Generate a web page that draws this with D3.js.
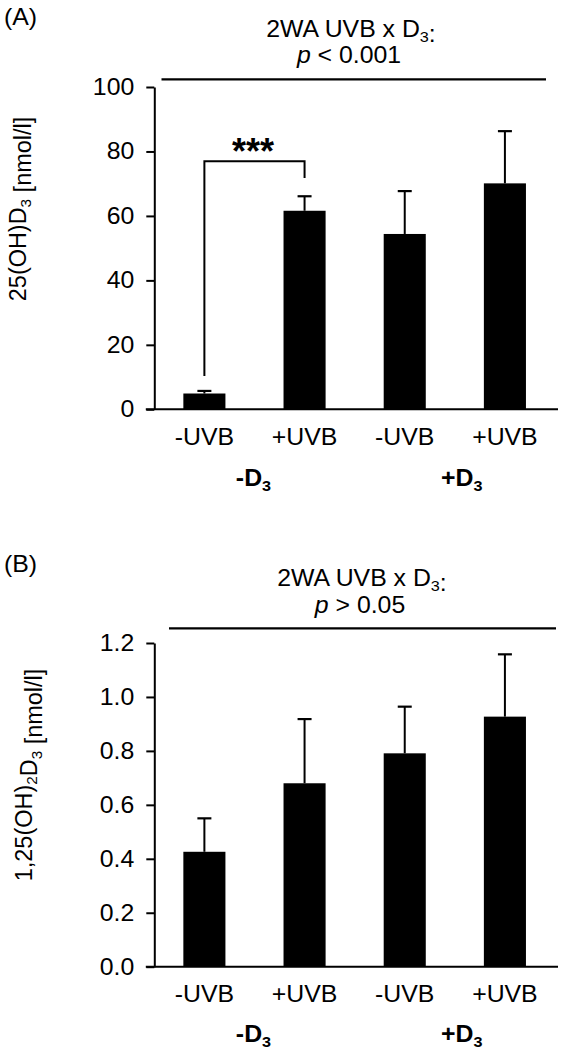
<!DOCTYPE html>
<html><head><meta charset="utf-8">
<script src="https://cdn.jsdelivr.net/npm/d3@7"></script>
<style>
body{margin:0;background:#fff}
svg{display:block}
text{font-family:"Liberation Sans",Arial,Helvetica,sans-serif;fill:#000}
</style></head><body>
<svg id="c" width="561" height="1055"></svg>
<script>
// ---- data ----
const categories = ["-UVB", "+UVB", "-UVB", "+UVB"];
const groupLabels = ["-D", "+D"];           // each followed by subscript 3
const valuesA = [4.9, 61.6, 54.4, 70.1];    // 25(OH)D3 nmol/l
const errorsA = [0.8, 4.5, 13.3, 16.2];
const valuesB = [0.426, 0.680, 0.791, 0.927]; // 1,25(OH)2D3 nmol/l
const errorsB = [0.124, 0.238, 0.173, 0.231];
const ticksA = [0, 20, 40, 60, 80, 100];
const ticksB = [0, 0.2, 0.4, 0.6, 0.8, 1.0, 1.2];
const pTextA = "< 0.001";
const pTextB = "> 0.05";
const bracketA = {from: 0, to: 1, left: 10.3, top: 77, right: 71.8, label: "***"};

const svg = d3.select("#c");
const FS = 23;     // font size
const SX = 1.08;   // horizontal widening of the glyphs
const SXR = 1.02;  // widening for rotated labels

function rich(sel, parts) {
  parts.forEach(p => {
    if (p.sub) {
      sel.append("tspan").attr("font-size", 15).attr("dy", 5).text(p.t);
      sel.append("tspan").attr("font-size", FS).attr("dy", -5).text("");
    } else if (p.it) {
      sel.append("tspan").attr("font-style", "italic").text(p.t);
    } else {
      sel.append("tspan").text(p.t);
    }
  });
  return sel;
}
function txt(parent, x, y, rot) {
  return parent.append("text")
    .attr("transform", `translate(${x},${y})${rot ? ` rotate(${rot}) scale(${SXR},1)` : ` scale(${SX},1)`}`)
    .attr("font-size", FS);
}

function panel(o) {
  const x = d3.scaleBand().domain(d3.range(categories.length))
    .range([154.3, 555]).paddingInner(0.58).paddingOuter(0.29);
  const y = d3.scaleLinear().domain(o.domain).range(o.yRange);
  const g = svg.append("g");

  // bars
  g.selectAll("rect.bar").data(o.values).join("rect")
    .attr("x", (d, i) => x(i)).attr("width", x.bandwidth())
    .attr("y", d => y(d)).attr("height", d => y(0) - y(d))
    .attr("fill", "#000");

  // error bars (upward)
  const eb = g.selectAll("g.err").data(o.values).join("g");
  eb.append("line")
    .attr("x1", (d, i) => x(i) + x.bandwidth() / 2).attr("x2", (d, i) => x(i) + x.bandwidth() / 2)
    .attr("y1", d => y(d)).attr("y2", (d, i) => y(d + o.errors[i]))
    .attr("stroke", "#000").attr("stroke-width", 2);
  eb.append("line")
    .attr("x1", (d, i) => x(i) + x.bandwidth() / 2 - 7).attr("x2", (d, i) => x(i) + x.bandwidth() / 2 + 7)
    .attr("y1", (d, i) => y(d + o.errors[i])).attr("y2", (d, i) => y(d + o.errors[i]))
    .attr("stroke", "#000").attr("stroke-width", 2.2);

  // y axis
  const ya = g.append("g").attr("transform", `translate(${x.range()[0]},0)`)
    .call(d3.axisLeft(y).tickValues(o.ticks).tickSize(8).tickSizeOuter(0).tickPadding(12).tickFormat(o.fmt));
  ya.attr("font-size", FS).attr("font-family", null);
  ya.selectAll("path,line").attr("stroke", "#000").attr("stroke-width", 2);
  ya.selectAll("text").attr("fill", "#000")
    .attr("transform", `translate(-20,0) scale(${SX},1)`).attr("x", 0);

  // x axis
  g.append("line").attr("x1", x.range()[0] - 8.5).attr("x2", x.range()[1] + 3)
    .attr("y1", y(0)).attr("y2", y(0)).attr("stroke", "#000").attr("stroke-width", 2);
  const xa = g.append("g").attr("transform", `translate(0,${y(0)})`)
    .call(d3.axisBottom(x).tickSize(0).tickFormat(i => categories[i]));
  xa.select(".domain").remove();
  xa.attr("font-size", FS).attr("font-family", null);
  xa.selectAll("text").attr("y", 0).attr("dy", 0).attr("fill", "#000")
    .attr("transform", `translate(0,${o.xLabelOff}) scale(${SX},1)`);

  // group labels
  const gOff = [-1, 7];
  groupLabels.forEach((lab, k) => {
    const cx = (x(2 * k) + x(2 * k + 1) + x.bandwidth()) / 2 + gOff[k];
    const t = txt(g, cx, y(0) + o.groupOff).attr("text-anchor", "middle").attr("font-weight", "bold");
    rich(t, [{t: lab}, {t: "3", sub: true}]);
  });

  // y label
  const yl = txt(g, o.ylabX, o.ylabY, -90).attr("text-anchor", "middle");
  rich(yl, o.ylab);

  // panel letter
  txt(g, 4, o.letterY).text(o.letter);

  // 2WA header
  const t1 = txt(g, o.titleX, o.titleY).attr("text-anchor", "middle");
  rich(t1, [{t: "2WA UVB x D"}, {t: "3", sub: true}, {t: ":"}]);
  const t2 = txt(g, o.titleX - 2, o.titleY + 26.5).attr("text-anchor", "middle");
  rich(t2, [{t: "p", it: true}, {t: " " + o.pText}]);
  g.append("line").attr("x1", o.lineX[0]).attr("x2", o.lineX[1])
    .attr("y1", o.lineY).attr("y2", o.lineY).attr("stroke", "#000").attr("stroke-width", 2.2);

  return {g, x, y};
}

const A = panel({
  values: valuesA, errors: errorsA, ticks: ticksA, domain: [0, 100], yRange: [409.3, 87],
  fmt: d3.format("d"), xLabelOff: 36, groupOff: 77,
  ylab: [{t: "25(OH)D"}, {t: "3", sub: true}, {t: " [nmol/l]"}], ylabX: 26, ylabY: 209,
  letter: "(A)", letterY: 25, titleX: 351, titleY: 36.5, pText: pTextA,
  lineX: [161.5, 546], lineY: 79.3
});

// significance bracket in panel A
{
  const {g, x, y} = A;
  const c0 = x(bracketA.from) + x.bandwidth() / 2, c1 = x(bracketA.to) + x.bandwidth() / 2;
  g.append("path")
    .attr("d", `M${c0},${y(bracketA.left)}V${y(bracketA.top)}H${c1}V${y(bracketA.right)}`)
    .attr("fill", "none").attr("stroke", "#000").attr("stroke-width", 2);
  g.append("text").attr("x", (c0 + c1) / 2 - 1.5).attr("y", y(bracketA.top) + 3)
    .attr("text-anchor", "middle").attr("font-size", 36).attr("font-weight", "bold")
    .text(bracketA.label);
}

panel({
  values: valuesB, errors: errorsB, ticks: ticksB, domain: [0, 1.2], yRange: [966.7, 643],
  fmt: d3.format(".1f"), xLabelOff: 35.5, groupOff: 75,
  ylab: [{t: "1,25(OH)"}, {t: "2", sub: true}, {t: "D"}, {t: "3", sub: true}, {t: " [nmol/l]"}],
  ylabX: 32, ylabY: 775,
  letter: "(B)", letterY: 572, titleX: 362, titleY: 586, pText: pTextB,
  lineX: [169, 556], lineY: 628.3
});
</script></body></html>
